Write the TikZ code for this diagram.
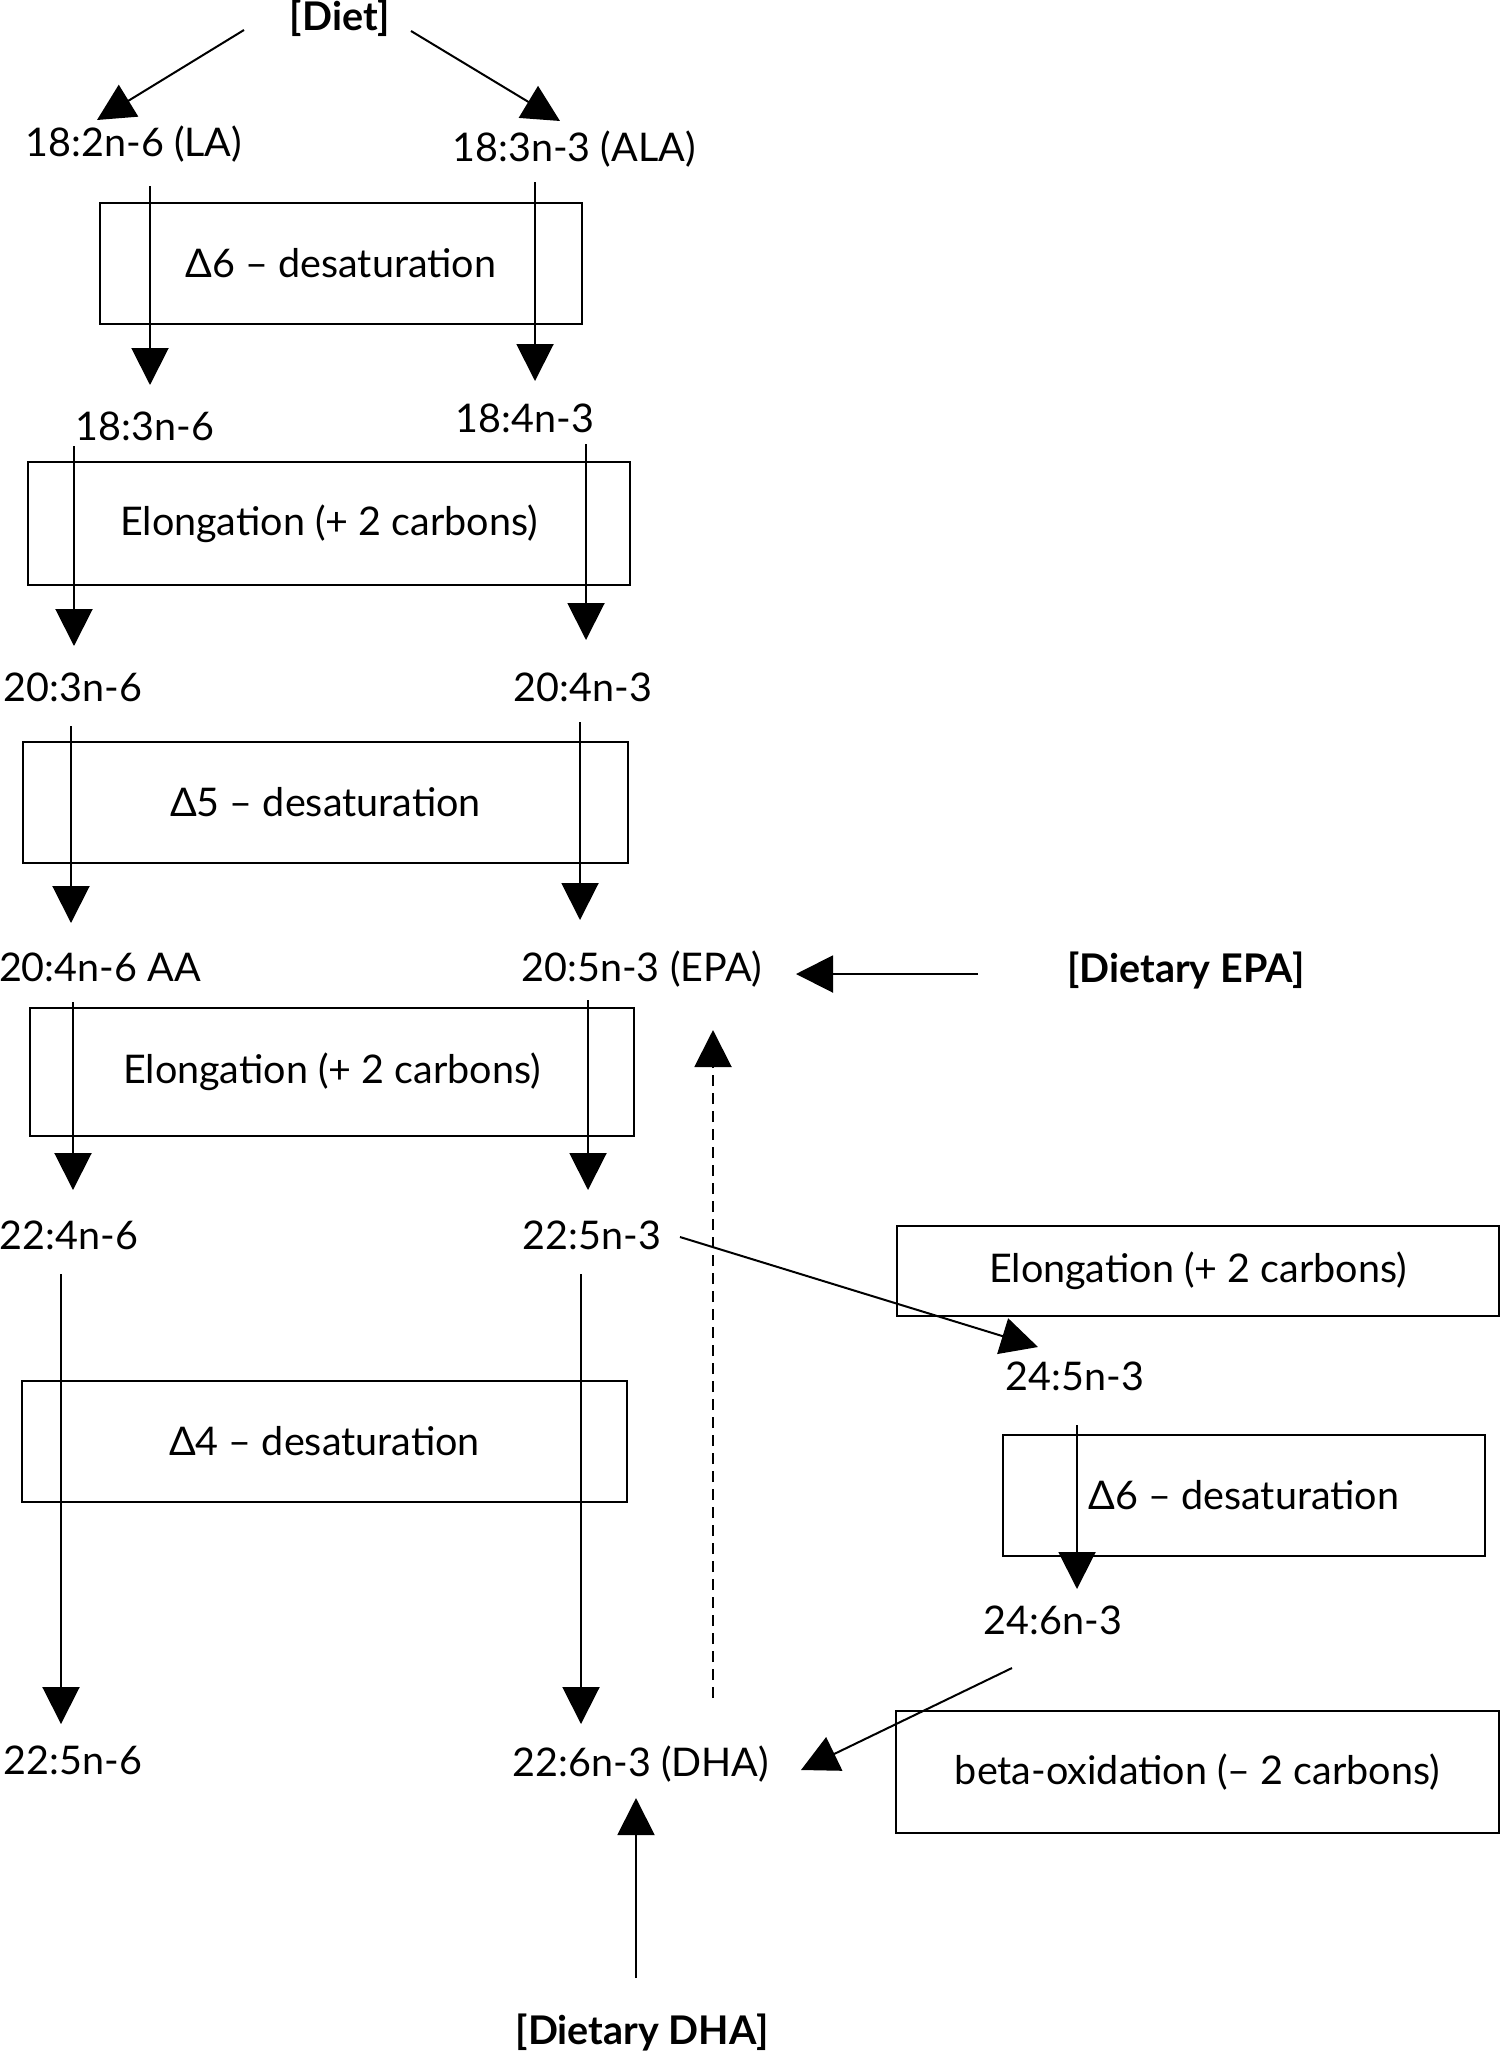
\documentclass[tikz,border=0pt]{standalone}
\usepackage{fontspec}
\setmainfont{Lato}
\usetikzlibrary{arrows.meta}
\begin{document}
\begin{tikzpicture}[x=1pt,y=-1pt,
  lbl/.style={font=\fontsize{39.5}{44}\selectfont, inner sep=0pt, text height=0.72em, text depth=0pt, anchor=center},
  bld/.style={lbl, font=\fontsize{39.5}{44}\selectfont\bfseries},
  stepbox/.style={draw, line width=2.6pt, inner sep=0pt, font=\fontsize{39.5}{44}\selectfont},
  arr/.style={line width=2pt, -{Triangle[length=37pt,width=37pt]}},
  dasharr/.style={arr, dash pattern=on 11pt off 7pt}]
\useasboundingbox (0,0) rectangle (1500,2056);

% process boxes
\node[stepbox, minimum width=482pt, minimum height=121pt] (b1) at (341,263.5) {Δ6 – desaturation};
\node[stepbox, minimum width=602pt, minimum height=123pt] (b2) at (329,523.5) {Elongation (+ 2 carbons)};
\node[stepbox, minimum width=605pt, minimum height=121pt] (b3) at (325.5,802.5) {Δ5 – desaturation};
\node[stepbox, minimum width=604pt, minimum height=128pt] (b4) at (332,1072) {Elongation (+ 2 carbons)};
\node[stepbox, minimum width=605pt, minimum height=121pt] (b5) at (324.5,1441.5) {Δ4 – desaturation};
\node[stepbox, minimum width=602pt, minimum height=90pt] (b6) at (1198,1271) {Elongation (+ 2 carbons)};
\node[stepbox, minimum width=482pt, minimum height=121pt] (b7) at (1244,1495.5) {Δ6 – desaturation};
\node[stepbox, minimum width=603pt, minimum height=122pt] (b8) at (1197.5,1772) {beta-oxidation (– 2 carbons)};

% labels
\node[bld] (diet) at (340,27) {[Diet]};
\node[lbl] (la) at (134,153) {18:2n-6 (LA)};
\node[lbl] (ala) at (574,158) {18:3n-3 (ALA)};
\node[lbl] (g1836) at (145,437) {18:3n-6};
\node[lbl] (s1843) at (525,429) {18:4n-3};
\node[lbl] (a2036) at (73,698) {20:3n-6};
\node[lbl] (a2043) at (583,698) {20:4n-3};
\node[lbl] (aa) at (100,978) {20:4n-6 AA};
\node[lbl] (epa) at (642,978) {20:5n-3 (EPA)};
\node[bld] (depa) at (1186,979) {[Dietary EPA]};
\node[lbl] (d2246) at (69,1246) {22:4n-6};
\node[lbl] (d2253) at (592,1246) {22:5n-3};
\node[lbl] (t2453) at (1075,1387) {24:5n-3};
\node[lbl] (t2463) at (1053,1631) {24:6n-3};
\node[lbl] (d2256) at (73,1771) {22:5n-6};
\node[lbl] (dha) at (641,1773) {22:6n-3 (DHA)};
\node[bld] (ddha) at (642,2041) {[Dietary DHA]};

% connector end points
\coordinate (c1s) at (244,30);   \coordinate (c1e) at (97,120);
\coordinate (c2s) at (411,31);   \coordinate (c2e) at (560,121);
\coordinate (c3s) at (150,186);  \coordinate (c3e) at (150,385);
\coordinate (c4s) at (535,182);  \coordinate (c4e) at (535,381);
\coordinate (c5s) at (74,446);   \coordinate (c5e) at (74,646);
\coordinate (c6s) at (586,444);  \coordinate (c6e) at (586,640);
\coordinate (c7s) at (71,726);   \coordinate (c7e) at (71,923);
\coordinate (c8s) at (580,722);  \coordinate (c8e) at (580,920);
\coordinate (c9s) at (73,1002);  \coordinate (c9e) at (73,1190);
\coordinate (c10s) at (588,1000); \coordinate (c10e) at (588,1190);
\coordinate (c11s) at (61,1274); \coordinate (c11e) at (61,1724);
\coordinate (c12s) at (581,1274); \coordinate (c12e) at (581,1724);
\coordinate (c13s) at (680,1237); \coordinate (c13e) at (1038,1347);
\coordinate (c14s) at (1077,1425); \coordinate (c14e) at (1077,1589);
\coordinate (c15s) at (1012,1668); \coordinate (c15e) at (801,1770);
\coordinate (c16s) at (978,974); \coordinate (c16e) at (796,974);
\coordinate (c17s) at (636,1978); \coordinate (c17e) at (636,1798);
\coordinate (c18s) at (713,1698); \coordinate (c18e) at (713,1030);

\draw[arr] (c1s) -- (c1e);
\draw[arr] (c2s) -- (c2e);
\draw[arr] (c3s) -- (c3e);
\draw[arr] (c4s) -- (c4e);
\draw[arr] (c5s) -- (c5e);
\draw[arr] (c6s) -- (c6e);
\draw[arr] (c7s) -- (c7e);
\draw[arr] (c8s) -- (c8e);
\draw[arr] (c9s) -- (c9e);
\draw[arr] (c10s) -- (c10e);
\draw[arr] (c11s) -- (c11e);
\draw[arr] (c12s) -- (c12e);
\draw[arr] (c13s) -- (c13e);
\draw[arr] (c14s) -- (c14e);
\draw[arr] (c15s) -- (c15e);
\draw[arr] (c16s) -- (c16e);
\draw[arr] (c17s) -- (c17e);
\draw[dasharr] (c18s) -- (c18e);
\end{tikzpicture}
\end{document}
